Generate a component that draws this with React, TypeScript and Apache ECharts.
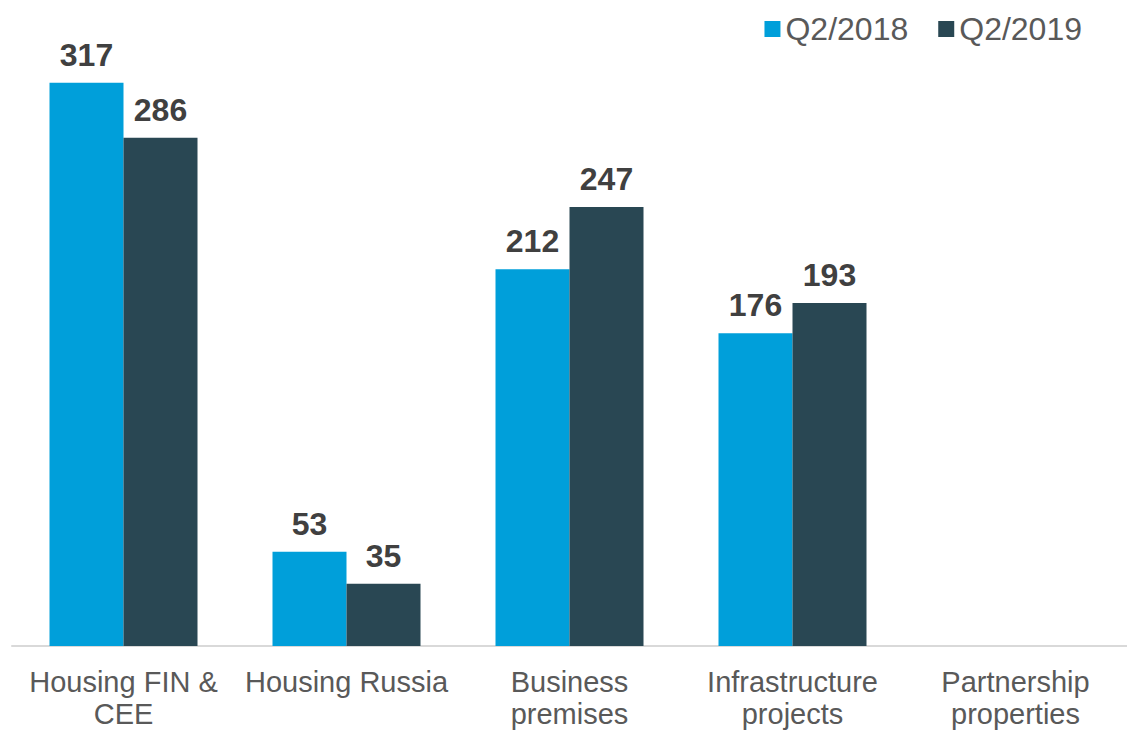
import React, { useEffect, useRef } from "react";
import * as echarts from "echarts";

const categories = [
  "Housing FIN &\nCEE",
  "Housing Russia",
  "Business\npremises",
  "Infrastructure\nprojects",
  "Partnership\nproperties",
];
const seriesNames = ["Q2/2018", "Q2/2019"];
const q2018 = [317, 53, 212, 176, null];
const q2019 = [286, 35, 247, 193, null];
const colors = ["#009FDA", "#294753"];

export default function App() {
  const ref = useRef<HTMLDivElement>(null);
  useEffect(() => {
    if (!ref.current) return;
    const chart = echarts.init(ref.current, null, { renderer: "svg" });
    const font = "'Liberation Sans', Arial, sans-serif";
    const label = {
      show: true,
      position: "top",
      distance: 12,
      fontFamily: font,
      fontSize: 32,
      fontWeight: "bold",
      color: "#404040",
    };
    chart.setOption({
      animation: false,
      color: colors,
      legend: {
        right: 40,
        top: 8,
        itemWidth: 16,
        itemHeight: 16,
        itemGap: 30,
        icon: "rect",
        textStyle: { fontFamily: font, fontSize: 32, color: "#595959", padding: [0, 0, 0, 0] },
        data: seriesNames,
      },
      grid: { left: 12, right: 0, top: 24, bottom: 85, containLabel: false },
      xAxis: {
        type: "category",
        data: categories,
        axisLine: { lineStyle: { color: "#D9D9D9", width: 2 } },
        axisTick: { show: false },
        axisLabel: {
          fontFamily: font,
          fontSize: 29,
          lineHeight: 32,
          color: "#595959",
          margin: 20,
          interval: 0,
        },
      },
      yAxis: {
        type: "value",
        min: 0,
        max: 350,
        show: false,
        splitLine: { show: false },
      },
      series: [
        { name: seriesNames[0], type: "bar", data: q2018, barWidth: 74, barGap: "0%", label },
        { name: seriesNames[1], type: "bar", data: q2019, barWidth: 74, barGap: "0%", label },
      ],
    });
    return () => chart.dispose();
  }, []);
  return (
    <div
      ref={ref}
      style={{ position: "fixed", left: 0, top: 0, width: 1127, height: 731, background: "#fff" }}
    />
  );
}
